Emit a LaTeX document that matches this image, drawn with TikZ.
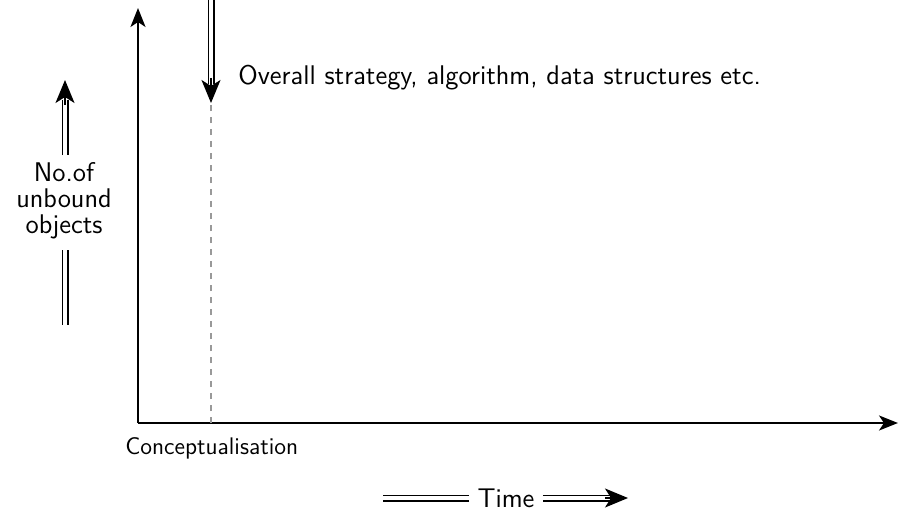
\documentclass[tikz,border=0pt]{standalone}
\usepackage{amsmath}
\usetikzlibrary{calc,arrows.meta,positioning}
\renewcommand{\familydefault}{\sfdefault}

\begin{document}
\begin{tikzpicture}[x=0.5pt, y=0.5pt, font=\fontsize{13.5}{13}\selectfont,
    axis/.style = {line width=1pt, -{Stealth[length=9.5pt, width=7.5pt, inset=2.5pt]}},
    dbl/.style = {double, double distance=2pt, line width=0.75pt},
    head/.style = {line width=0.75pt, -{Stealth[length=11.5pt, width=9.5pt, inset=3pt]}},
    lbl/.style = {inner sep=0pt, align=center}]
    \useasboundingbox (0,0) rectangle (899,510);

    % axes
    \coordinate (0) at (138,87);
    \coordinate (ytop) at (138,502);
    \coordinate (xend) at (898,87);
    \draw[axis] (0) -- (ytop);
    \draw[axis] (0) -- (xend);

    % conceptualisation marker
    \coordinate (c) at (211,87);
    \coordinate (ctop) at (211,407);
    \draw[gray!80, dashed, line width=0.8pt] (c) -- (ctop);
    \draw[dbl] (211,510) -- (211,426);
    \draw[head] (211,432) -- (ctop);
    \node[lbl, anchor=west] (1) at (238,432) {Overall strategy, algorithm, data structures etc.};
    \node[lbl, anchor=west, font=\fontsize{12}{14}\selectfont] (2) at (125,62) {Conceptualisation};

    % vertical label
    \node[lbl] (3) at (64,309) {No.of\\unbound\\objects};
    \draw[dbl] (65,355) -- (65,410);
    \draw[head] (65,405) -- (65,430);
    \draw[dbl] (65,260) -- (65,185);

    % time label
    \node[lbl] (4) at (506,12) {Time};
    \draw[dbl] ($(4.west)+(-8,0)$) -- (383,12);
    \draw[dbl] ($(4.east)+(8,0)$) -- (612,12);
    \draw[head] (605,12) -- (628,12);
\end{tikzpicture}
\end{document}
